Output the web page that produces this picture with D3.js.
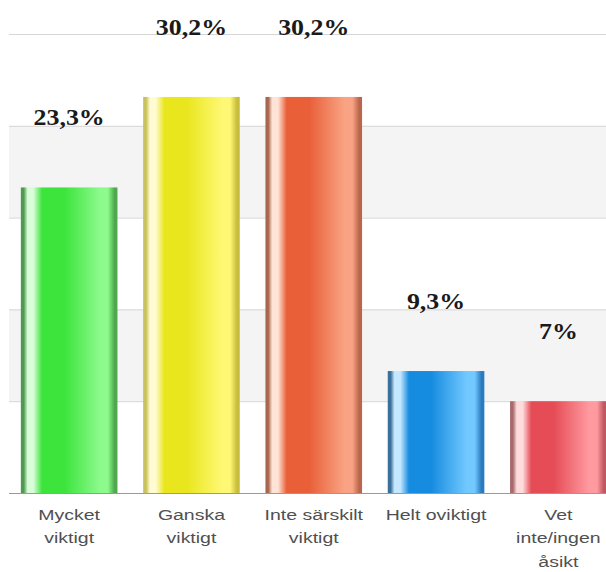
<!DOCTYPE html>
<html>
<head>
<meta charset="utf-8">
<script src="https://cdn.jsdelivr.net/npm/d3@7"></script>
<style>
  html, body { margin: 0; padding: 0; background: #fff; }
  svg { display: block; }
</style>
</head>
<body>
<div id="chart"></div>
<script>
// ---- data ----
const categories = [
  ["Mycket", "viktigt"],
  ["Ganska", "viktigt"],
  ["Inte särskilt", "viktigt"],
  ["Helt oviktigt"],
  ["Vet", "inte/ingen", "åsikt"]
];
const values = [23.3, 30.2, 30.2, 9.3, 7];
const valueLabels = ["23,3%", "30,2%", "30,2%", "9,3%", "7%"];
const tickValues = [0, 7, 14, 21, 28, 35];

// ---- palette (edge, highlight, main, light, rightEdge) ----
const palette = [
  ["#4f9a4f", "#d8fdd8", "#3ce43c", "#8cfa8c", "#4ea84e"],
  ["#c9c25a", "#fffbd2", "#e9e61e", "#fff874", "#c8bd3c"],
  ["#a8674c", "#ffe3d6", "#e85f38", "#f9a384", "#b9664c"],
  ["#3b6f9c", "#c4e8ff", "#168ce0", "#72c9ff", "#2b7cbe"],
  ["#a86a6e", "#ffdcdc", "#e64c56", "#ff9aa0", "#bf5860"]
];

const W = 606, H = 572;
const svg = d3.select("#chart").append("svg").attr("width", W).attr("height", H);

const x = d3.scaleBand()
  .domain(d3.range(values.length))
  .range([8, 619.5])
  .paddingInner(0.21)
  .paddingOuter(0.105);

const y = d3.scaleLinear().domain([0, 35]).range([493, 34]);
const plotLeft = 9, plotRight = W;

// gradients
const defs = svg.append("defs");
palette.forEach((c, i) => {
  const g = defs.append("linearGradient").attr("id", "g" + i)
    .attr("x1", "0%").attr("x2", "100%").attr("y1", "0%").attr("y2", "0%");
  const stops = [
    [0, c[0]], [0.03, c[0]], [0.07, c[1]], [0.13, c[1]], [0.22, c[2]],
    [0.45, c[2]], [0.82, c[3]], [0.9, c[3]], [0.97, c[4]], [1, c[4]]
  ];
  stops.forEach(s => g.append("stop").attr("offset", s[0]).attr("stop-color", s[1]));
});

// alternating bands
const bands = d3.range(tickValues.length - 1).filter(i => i % 2 === 1);
svg.append("g").selectAll("rect").data(bands).join("rect")
  .attr("x", plotLeft).attr("width", plotRight - plotLeft)
  .attr("y", i => y(tickValues[i + 1]))
  .attr("height", i => y(tickValues[i]) - y(tickValues[i + 1]))
  .attr("fill", "#f4f4f4");

// gridlines
const yAxis = d3.axisLeft(y).tickValues(tickValues.slice(1)).tickSize(-(plotRight - plotLeft)).tickFormat("");
const ga = svg.append("g").attr("transform", `translate(${plotLeft},0)`).call(yAxis);
ga.select(".domain").remove();
ga.selectAll(".tick line").attr("stroke", "#d6d6d6").attr("stroke-width", 1);

// bars
svg.append("g").selectAll("rect").data(values).join("rect")
  .attr("x", (d, i) => x(i))
  .attr("width", x.bandwidth())
  .attr("y", d => y(d))
  .attr("height", d => y(0) - y(d))
  .attr("fill", (d, i) => `url(#g${i})`);

// baseline
const xAxis = d3.axisBottom(x).tickSize(0).tickFormat("");
const gx = svg.append("g").attr("transform", `translate(0,${y(0)})`).call(xAxis);
gx.select(".domain").attr("d", `M${plotLeft},0.5H${plotRight}`).attr("stroke", "#9a9a9a");

// category labels
const cat = svg.append("g").selectAll("g").data(categories).join("g")
  .attr("transform", (d, i) => `translate(${x(i) + x.bandwidth() / 2},0) scale(1.3,1)`);
cat.selectAll("text").data(d => d).join("text")
  .attr("x", 0)
  .attr("y", (d, j) => y(0) + 27 + j * 23.5)
  .attr("text-anchor", "middle")
  .attr("font-family", "Liberation Sans, Arial, sans-serif")
  .attr("font-size", 15)
  .attr("fill", "#505050")
  .text(d => d);

// value labels
svg.append("g").selectAll("text").data(values).join("text")
  .attr("transform", (d, i) => `translate(${x(i) + x.bandwidth() / 2},${y(d) - 62}) scale(1.08,1)`)
  .attr("text-anchor", "middle")
  .attr("font-family", "Liberation Serif, 'Times New Roman', serif")
  .attr("font-weight", "bold")
  .attr("font-size", 24)
  .attr("fill", "#1a1a1a")
  .text((d, i) => valueLabels[i]);
</script>
</body>
</html>
